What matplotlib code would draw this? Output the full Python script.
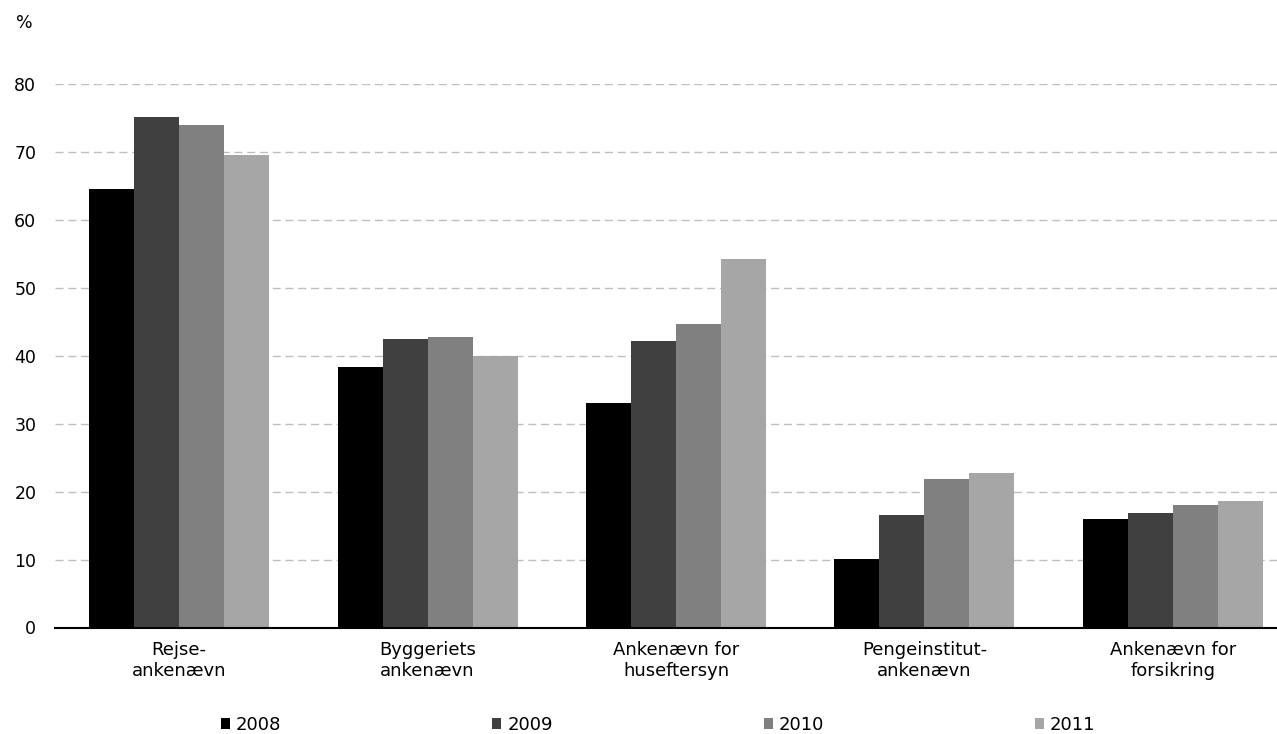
import matplotlib
matplotlib.use("Agg")
import matplotlib.pyplot as plt
from matplotlib.patches import Patch
import numpy as np

# Share of complaints (%) per appeals board and year
categories = [
    "Rejse-\nankenævn",
    "Byggeriets\nankenævn",
    "Ankenævn for\nhuseftersyn",
    "Pengeinstitut-\nankenævn",
    "Ankenævn for\nforsikring",
]
years = ["2008", "2009", "2010", "2011"]
values_2008 = [64.6, 38.4, 33.1, 10.1, 15.9]
values_2009 = [75.1, 42.5, 42.2, 16.5, 16.8]
values_2010 = [74.0, 42.8, 44.6, 21.8, 18.0]
values_2011 = [69.6, 39.9, 54.3, 22.7, 18.6]
yticks = [0, 10, 20, 30, 40, 50, 60, 70, 80]

series = [values_2008, values_2009, values_2010, values_2011]
colors = ["#000000", "#404040", "#808080", "#A6A6A6"]

plt.rcParams["font.family"] = ["DejaVu Sans"]
FS_TICK = 12.5
FS_TEXT = 13

W, H = 1277, 734
fig = plt.figure(figsize=(W / 100, H / 100), dpi=100)

# axes extend past the right edge of the canvas
ax_left, ax_right = 55, 1297
ax_top, ax_bottom = 84, 627.5
ax = fig.add_axes([ax_left / W, (H - ax_bottom) / H,
                   (ax_right - ax_left) / W, (ax_bottom - ax_top) / H])

x = np.arange(len(categories))
bar_w = 45 / 248.4
for j, (vals, col) in enumerate(zip(series, colors)):
    ax.bar(x + (j - 1.5) * bar_w, vals, width=bar_w, color=col,
           edgecolor="none", linewidth=0, zorder=2)

ax.set_xlim(-0.5, len(categories) - 0.5)
ax.set_ylim(0, 80)
ax.set_yticks(yticks)
ax.set_yticklabels([str(t) for t in yticks], fontsize=FS_TICK)
ax.set_xticks(x)
ax.set_xticklabels(categories, fontsize=FS_TEXT, linespacing=1.22)

ax.yaxis.grid(True, color="#BFBFBF", linewidth=1.0,
              linestyle=(0, (5.8, 3.4)))
ax.set_axisbelow(True)

for side in ["top", "right", "left"]:
    ax.spines[side].set_visible(False)
ax.spines["bottom"].set_linewidth(1.5)
ax.spines["bottom"].set_color("black")
ax.spines["bottom"].set_zorder(3)

ax.tick_params(axis="y", length=0, pad=13.5, colors="black")
ax.tick_params(axis="x", length=0, pad=10, colors="black")

fig.text(16 / W, 1 - 23 / H, "%", fontsize=FS_TICK, ha="left", va="center")

handles = [Patch(facecolor=c, edgecolor="none") for c in colors]
fig.legend(handles, years, loc="center left",
           bbox_to_anchor=(221 / W, 1 - 725 / H), ncol=4, frameon=False,
           fontsize=FS_TEXT, handlelength=0.5, handleheight=0.5,
           handletextpad=0.33, columnspacing=11.68, borderpad=0,
           borderaxespad=0)

fig.savefig("out.png", dpi=100)
